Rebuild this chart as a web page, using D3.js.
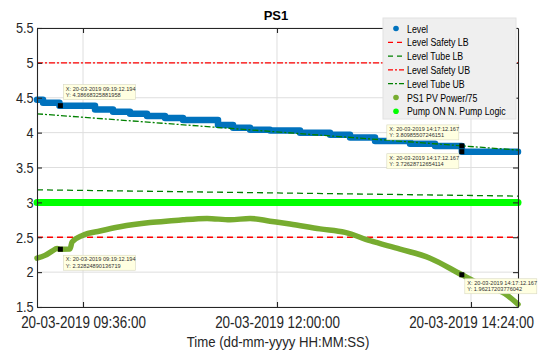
<!DOCTYPE html>
<html>
<head>
<meta charset="utf-8">
<script src="https://cdn.jsdelivr.net/npm/d3@7"></script>
<style>
  body { margin: 0; background: #fff; }
  svg { display: block; font-family: "Liberation Sans", Arial, sans-serif; }
</style>
</head>
<body>
<div id="chart"></div>
<script>
const day = "2019-03-20 ";

const levelTimes = ["09:01:51", "09:06:20", "09:18:30", "09:44:55", "09:58:16", "10:10:54", "10:23:30",
  "10:36:53", "10:50:15", "11:16:13", "11:27:22", "11:40:00", "11:54:50", "12:17:06", "12:39:22",
  "12:54:13", "13:12:46", "13:38:45", "13:57:20", "14:17:12", "14:58:54"];
const levelValues = [4.47, 4.43, 4.387, 4.33, 4.30, 4.27, 4.24, 4.21, 4.18, 4.11, 4.07, 4.04, 4.03,
  4.00, 3.97, 3.93, 3.88, 3.84, 3.81, 3.726, 3.726];

const pvTimes = ["09:01:51", "09:07:47", "09:13:00", "09:16:42", "09:19:12", "09:26:21", "09:27:50",
  "09:36:00", "09:48:37", "10:03:28", "10:25:45", "10:44:18", "10:50:15", "11:08:03", "11:25:08",
  "11:40:00", "11:54:50", "12:09:40", "12:31:57", "12:50:30", "13:09:04", "13:31:20", "13:53:37",
  "14:17:12", "14:30:45", "14:49:18", "14:58:54"];
const pvValues = [2.20, 2.24, 2.30, 2.34, 2.328, 2.33, 2.43, 2.53, 2.59, 2.65, 2.71, 2.74, 2.75, 2.77,
  2.75, 2.77, 2.73, 2.69, 2.62, 2.57, 2.45, 2.33, 2.20, 1.962, 1.83, 1.69, 1.54];

const boundTimes = ["09:01:51", "14:58:54"];
const tubeUB = [4.27, 3.75];
const tubeLB = [3.18, 3.09];
const safetyUB = [5, 5];
const safetyLB = [2.5, 2.5];
const pumpOn = [3, 3];

const xTickTimes = ["09:36:00", "12:00:00", "14:24:00"];
const yTicks = [1.5, 2, 2.5, 3, 3.5, 4, 4.5, 5, 5.5];

const legendLabels = ["Level", "Level Safety LB", "Level Tube LB", "Level Safety UB", "Level Tube UB",
  "PS1 PV Power/75", "Pump ON N. Pump Logic"];

const tipTimes = ["09:19:12", "09:19:12", "14:17:12", "14:17:12", "14:17:12"];
const tipValues = [4.3867, 2.3282, 3.8099, 3.7263, 1.9622];
const tipX = ["X: 20-03-2019 09:19:12.194", "X: 20-03-2019 09:19:12.194", "X: 20-03-2019 14:17:12.167",
  "X: 20-03-2019 14:17:12.167", "X: 20-03-2019 14:17:12.167"];
const tipY = ["Y: 4.38668325881958", "Y: 2.32824890136719", "Y: 3.80985507246151",
  "Y: 3.72628712654114", "Y: 1.96217203776042"];

const parse = d3.timeParse("%Y-%m-%d %H:%M:%S");
const t = (s) => parse(day + s);

const W = 541, H = 352;
const margin = { top: 28, right: 23, bottom: 45, left: 37 };

const svg = d3.select("#chart").append("svg").attr("width", W).attr("height", H);

const x = d3.scaleTime()
  .domain([t("09:01:51"), t("14:58:54")])
  .range([margin.left, W - margin.right]);
const y = d3.scaleLinear()
  .domain([1.5, 5.5])
  .range([H - margin.bottom, margin.top]);

// grid
const grid = svg.append("g").attr("stroke", "#dedede").attr("stroke-width", 1);
grid.selectAll(".gx").data(xTickTimes).enter().append("line")
  .attr("x1", d => x(t(d))).attr("x2", d => x(t(d)))
  .attr("y1", margin.top).attr("y2", H - margin.bottom);
grid.selectAll(".gy").data(yTicks).enter().append("line")
  .attr("y1", d => y(d)).attr("y2", d => y(d))
  .attr("x1", margin.left).attr("x2", W - margin.right);

const zip = (times, vals) => times.map((s, i) => ({ t: t(s), v: vals[i] }));
const line = d3.line().x(d => x(d.t)).y(d => y(d.v));

// reference bounds
svg.append("path").datum(zip(boundTimes, safetyUB)).attr("d", line)
  .attr("fill", "none").attr("stroke", "#ff0000").attr("stroke-width", 1.3).attr("stroke-dasharray", "6,2,2,2");
svg.append("path").datum(zip(boundTimes, safetyLB)).attr("d", line)
  .attr("fill", "none").attr("stroke", "#ff0000").attr("stroke-width", 1.3).attr("stroke-dasharray", "6,4");
svg.append("path").datum(zip(boundTimes, tubeLB)).attr("d", line)
  .attr("fill", "none").attr("stroke", "#008000").attr("stroke-width", 1.3).attr("stroke-dasharray", "6,4");

// pump
svg.append("path").datum(zip(boundTimes, pumpOn)).attr("d", line)
  .attr("fill", "none").attr("stroke", "#00ff00").attr("stroke-width", 7).attr("stroke-linecap", "round");

// pv power
svg.append("path").datum(zip(pvTimes, pvValues)).attr("d", line.curve(d3.curveMonotoneX))
  .attr("fill", "none").attr("stroke", "#77ac30").attr("stroke-width", 5.5)
  .attr("stroke-linecap", "round").attr("stroke-linejoin", "round");

// level
svg.append("path").datum(zip(levelTimes, levelValues))
  .attr("d", d3.line().x(d => x(d.t)).y(d => y(d.v)).curve(d3.curveStepAfter))
  .attr("fill", "none").attr("stroke", "#0072bd").attr("stroke-width", 6.5)
  .attr("stroke-linecap", "round").attr("stroke-linejoin", "round");

// tube ub on top
svg.append("path").datum(zip(boundTimes, tubeUB)).attr("d", d3.line().x(d => x(d.t)).y(d => y(d.v)))
  .attr("fill", "none").attr("stroke", "#008000").attr("stroke-width", 1.3).attr("stroke-dasharray", "6,2,2,2");

// axes
const fmt = d3.timeFormat("%d-%m-%Y %H:%M:%S");
const xAxis = svg.append("g").attr("transform", `translate(0,${H - margin.bottom})`)
  .call(d3.axisBottom(x).tickValues(xTickTimes.map(t)).tickFormat(fmt).tickSizeInner(-5).tickSizeOuter(0).tickPadding(8));
xAxis.selectAll("text").attr("font-size", 16).attr("fill", "#262626")
  .attr("transform", "scale(0.84,1)").attr("dy", "0.8em");
const yAxis = svg.append("g").attr("transform", `translate(${margin.left},0)`)
  .call(d3.axisLeft(y).tickValues(yTicks).tickFormat(d3.format("")).tickSizeInner(-5).tickSizeOuter(0).tickPadding(4));
yAxis.selectAll("text").attr("font-size", 15).attr("fill", "#262626").attr("transform", "scale(0.85,1)");
svg.append("g").attr("transform", `translate(0,${margin.top})`)
  .call(d3.axisTop(x).tickValues(xTickTimes.map(t)).tickFormat("").tickSizeInner(-5).tickSizeOuter(0));
svg.append("g").attr("transform", `translate(${W - margin.right},0)`)
  .call(d3.axisRight(y).tickValues(yTicks).tickFormat("").tickSizeInner(-5).tickSizeOuter(0));
svg.selectAll(".domain, .tick line").attr("stroke", "#262626").attr("stroke-width", 1.1);

// title and label
svg.append("text").attr("x", 276).attr("y", 20).attr("text-anchor", "middle")
  .attr("font-size", 13).attr("font-weight", "bold").attr("fill", "#000").text("PS1");
svg.append("text").attr("transform", `translate(278,347) scale(0.88,1)`).attr("text-anchor", "middle")
  .attr("font-size", 15).attr("fill", "#262626").text("Time (dd-mm-yyyy HH:MM:SS)");

// datatips
const tipOffsets = [[3, -21], [3, 6], [-75, -21], [-75, 2], [3, 4]];
tipTimes.forEach((s, i) => {
  const px = x(t(s)), py = y(tipValues[i]);
  const g = svg.append("g").attr("transform", `translate(${px + tipOffsets[i][0]},${py + tipOffsets[i][1]})`);
  g.append("rect").attr("width", 72).attr("height", 15)
    .attr("fill", "#ffffe1").attr("stroke", "#d8d8c0").attr("stroke-width", 0.6);
  g.append("text").attr("x", 2.5).attr("y", 6).attr("font-size", 5.6).attr("fill", "#333").text(tipX[i]);
  g.append("text").attr("x", 2.5).attr("y", 12.5).attr("font-size", 5.6).attr("fill", "#333").text(tipY[i]);
  svg.append("rect").attr("x", px - 2.5).attr("y", py - 2.5).attr("width", 5).attr("height", 5).attr("fill", "#000");
});

// legend
const lg = svg.append("g").attr("transform", "translate(383,18)");
lg.append("rect").attr("width", 133).attr("height", 101).attr("fill", "#efefef").attr("stroke", "#e2e2e2");
const legendStyles = [
  { kind: "dot", color: "#0072bd" },
  { kind: "line", color: "#ff0000", dash: "5,4" },
  { kind: "line", color: "#008000", dash: "5,4" },
  { kind: "line", color: "#ff0000", dash: "5,2,2,2" },
  { kind: "line", color: "#008000", dash: "5,2,2,2" },
  { kind: "dot", color: "#77ac30" },
  { kind: "dot", color: "#00ff00" },
];
legendLabels.forEach((lab, i) => {
  const cy = 10.5 + i * 13.8;
  const st = legendStyles[i];
  if (st.kind === "dot") {
    lg.append("circle").attr("cx", 13).attr("cy", cy).attr("r", 2.8).attr("fill", st.color);
  } else {
    lg.append("line").attr("x1", 5).attr("x2", 21).attr("y1", cy).attr("y2", cy)
      .attr("stroke", st.color).attr("stroke-width", 1.3).attr("stroke-dasharray", st.dash);
  }
  lg.append("text").attr("transform", `translate(24,${cy + 4}) scale(0.8,1)`)
    .attr("font-size", 11).attr("fill", "#000").text(lab);
});
</script>
</body>
</html>
